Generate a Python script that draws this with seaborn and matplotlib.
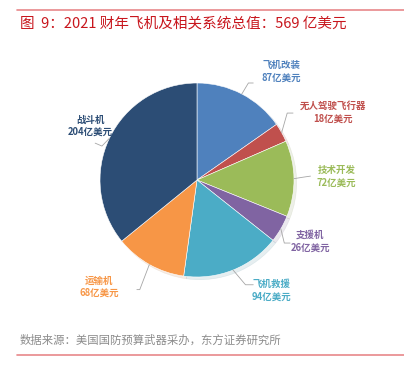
import matplotlib
matplotlib.use("Agg")
import matplotlib.pyplot as plt
import seaborn as sns
import numpy as np

sns.set_style("white")
plt.rcParams['font.family'] = ['Noto Sans CJK SC', 'DejaVu Sans']

# data (clockwise from 12 o'clock)
categories = ["飞机改装", "无人驾驶飞行器", "技术开发", "支援机", "飞机救援", "运输机", "战斗机"]
values = [87, 18, 72, 26, 94, 68, 204]
colors = ["#4F81BD", "#C0504D", "#9BBB59", "#8064A2", "#4BACC6", "#F79646", "#2C4D75"]
title = "图  9：2021 财年飞机及相关系统总值：569 亿美元"
source = "数据来源：美国国防预算武器采办，东方证券研究所"

# label layout (pie radius units)
label_pos = [(0.87, 1.12), (1.40, 0.70), (1.44, 0.04), (1.17, -0.63),
             (0.77, -1.14), (-1.01, -1.10), (-1.10, 0.56)]
elbows = [(0.53, 1.0), (0.93, 0.69), (1.10, 0.03), (0.90, -0.65),
          (0.50, -1.08), (-0.59, -1.13), (-0.98, 0.35)]
ends = [(0.58, 1.0), (0.99, 0.69), (1.17, 0.04), (0.96, -0.65),
        (0.58, -1.08), (-0.62, -1.13), (-1.05, 0.38)]

fig = plt.figure(figsize=(4.04, 3.70), dpi=100)
ax = fig.add_axes([0, 0, 1, 1])

wedges, _ = ax.pie(values, colors=colors, startangle=90, counterclock=False,
                   radius=1.0,
                   wedgeprops=dict(edgecolor="white", linewidth=0.4),
                   shadow=dict(ox=0.02, oy=-0.02, shade=0.3, alpha=0.12))

ax.set_xlim(-197 / 97, (404 - 197) / 97)
ax.set_ylim(-(370 - 180) / 97, 180 / 97)
ax.set_aspect("equal")
ax.axis("off")

for w, cat, val, c, lp, el, en in zip(wedges, categories, values, colors,
                                      label_pos, elbows, ends):
    mid = np.deg2rad((w.theta1 + w.theta2) / 2)
    ax0, ay0 = np.cos(mid) * 1.0, np.sin(mid) * 1.0
    ax.plot([ax0, el[0], en[0]], [ay0, el[1], en[1]], color="#A6A6A6", lw=0.6)
    ax.text(lp[0], lp[1] + 0.065, cat, color=c, fontsize=6.8, fontweight="bold",
            ha="center", va="center")
    ax.text(lp[0], lp[1] - 0.065, f"{val}亿美元", color=c, fontsize=6.8,
            fontweight="bold", ha="center", va="center")

# header / footer
fig.add_artist(plt.Line2D([17 / 404, 1], [1 - 10 / 370, 1 - 10 / 370],
                          color="#E8888A", lw=1.2))
fig.text(20 / 404, 1 - 24 / 370, title, color="#C8161D", fontsize=10.5,
         ha="left", va="center")
fig.text(20 / 404, 1 - 340 / 370, source, color="#8C8C8C", fontsize=8.2,
         ha="left", va="center")
fig.add_artist(plt.Line2D([17 / 404, 1], [1 - 355 / 370, 1 - 355 / 370],
                          color="#E8888A", lw=1.2))

fig.savefig("out.png", dpi=100)
plt.close()
